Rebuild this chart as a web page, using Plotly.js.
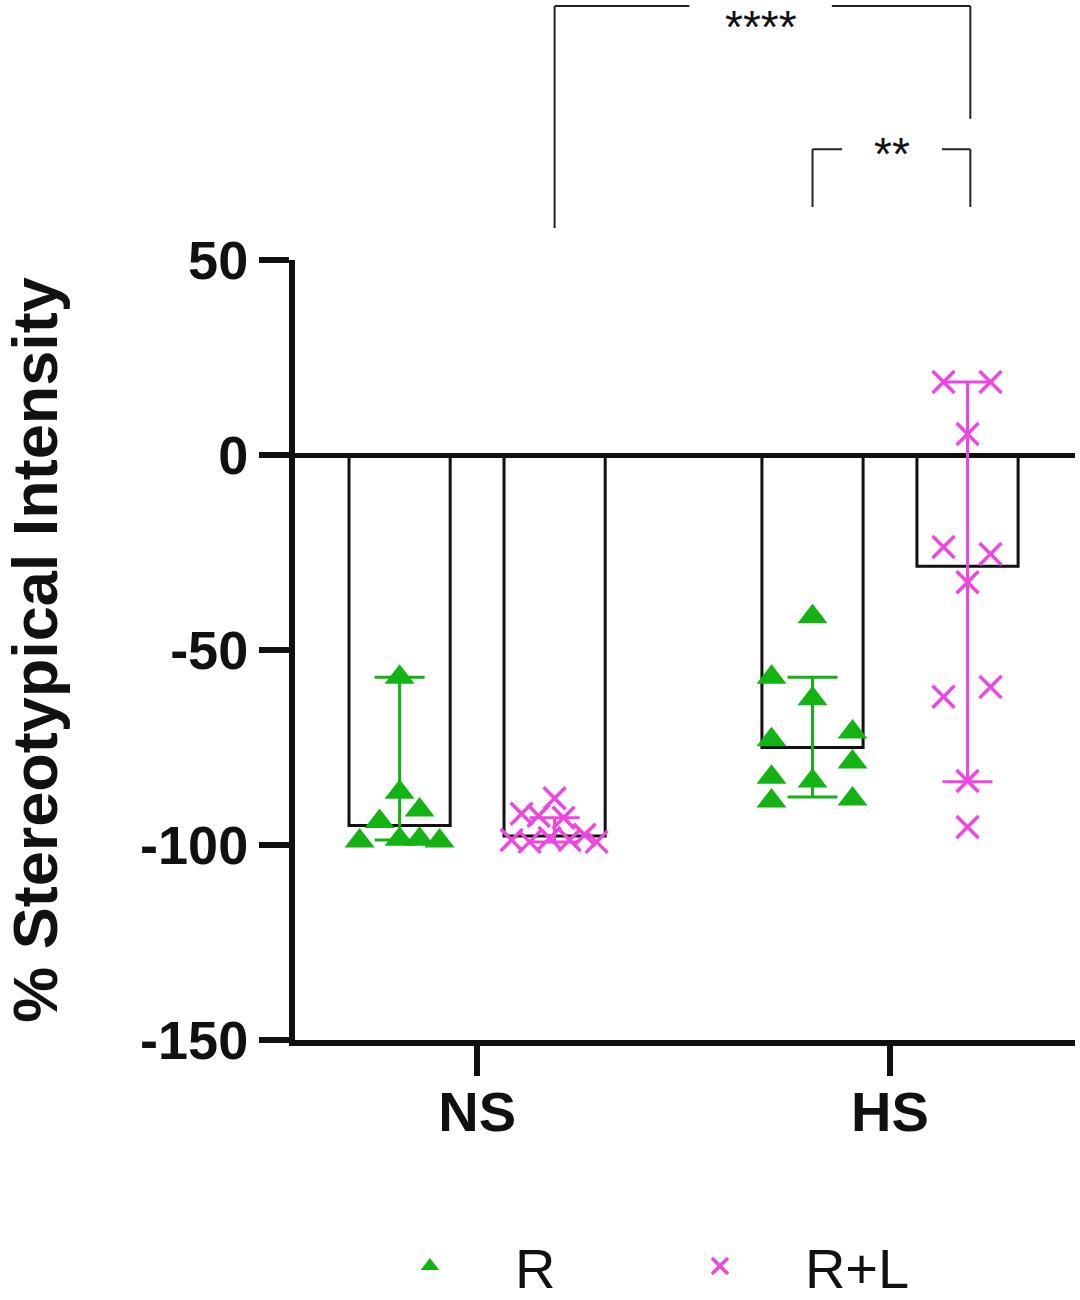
<!DOCTYPE html>
<html>
<head>
<meta charset="utf-8">
<script src="https://cdn.plot.ly/plotly-3.0.1.min.js"></script>
<style>html,body{margin:0;padding:0;background:#fff;}#chart{width:1080px;height:1300px;}</style>
</head>
<body>
<div id="chart"></div>
<script>
// ---- data ----
const groups = ['NS', 'HS'];
const seriesNames = ['R', 'R+L'];
const yTickVals = [-150, -100, -50, 0, 50];
const yTickText = ['-150', '-100', '-50', '0', '50'];

// bar heights (median) and whisker ends
const rBar = [-95, -75];
const rLow = [-98.7, -87.7];
const rHigh = [-57, -57];
const rlBar = [-97.7, -28.5];
const rlLow = [-99.2, -83.8];
const rlHigh = [-93, 18.7];

// individual points
const nsR = [-57, -86.5, -91, -94, -99, -98.5, -98.5, -99];
const nsRJitter = [0, 0, 20, -20, -40, 0, 20, 40];
const hsR = [-41.5, -57, -62.5, -73, -71, -78.7, -82.6, -83.6, -88.7, -88.2];
const hsRJitter = [0, -41, 0, -41, 40, 40, -41, 0, -41, 40];
const nsRL = [-88, -92, -92.5, -93, -98.7, -99.2, -98.2, -98.7, -97.4, -99.2];
const nsRLJitter = [0, -33, -16, 9, -43, -25, -5, 15, 30, 42];
const hsRL = [18.7, 18.7, 5.4, -23.6, -25.4, -32.6, -62, -59.5, -83.6, -95.4];
const hsRLJitter = [-24, 23, 0, -24, 23, 0, -24, 23, 0, 0];

// significance labels
const sigLabels = ['****', '**'];

// ---- layout helpers ----
const green = '#12B312';
const pink = '#EE46DE';
const font = 'Liberation Sans, Arial, sans-serif';
const groupPos = [1, 2];
const off = 0.1877;      // bar offset within group
const barW = 0.245;
const pxUnit = 1 / 413;  // axis units per pixel (for jitter)

const xR = groupPos.map(g => g - off);
const xRL = groupPos.map(g => g + off);

function jit(center, arr) { return arr.map(j => center + j * pxUnit); }

const traces = [
  { type: 'bar', x: xR, y: rBar, width: barW, showlegend: false, hoverinfo: 'skip',
    marker: { color: 'rgba(255,255,255,0)', line: { color: '#111', width: 3 } } },
  { type: 'bar', x: xRL, y: rlBar, width: barW, showlegend: false, hoverinfo: 'skip',
    marker: { color: 'rgba(255,255,255,0)', line: { color: '#111', width: 3 } } },
  { type: 'scatter', mode: 'markers', x: xR, y: rBar, showlegend: false, hoverinfo: 'skip',
    marker: { size: 1, color: 'rgba(0,0,0,0)' },
    error_y: { type: 'data', symmetric: false,
      array: rHigh.map((v, i) => v - rBar[i]), arrayminus: rLow.map((v, i) => rBar[i] - v),
      color: green, thickness: 3, width: 25 } },
  { type: 'scatter', mode: 'markers', x: xRL, y: rlBar, showlegend: false, hoverinfo: 'skip',
    marker: { size: 1, color: 'rgba(0,0,0,0)' },
    error_y: { type: 'data', symmetric: false,
      array: rlHigh.map((v, i) => v - rlBar[i]), arrayminus: rlLow.map((v, i) => rlBar[i] - v),
      color: pink, thickness: 3, width: 25 } },
  { type: 'scatter', mode: 'markers', name: seriesNames[0],
    x: jit(xR[0], nsRJitter).concat(jit(xR[1], hsRJitter)),
    y: nsR.concat(hsR),
    marker: { symbol: 'triangle-up', size: 26, color: green, line: { width: 0 } } },
  { type: 'scatter', mode: 'markers', name: seriesNames[1],
    x: jit(xRL[0], nsRLJitter).concat(jit(xRL[1], hsRLJitter)),
    y: nsRL.concat(hsRL),
    marker: { symbol: 'x-thin', size: 22, color: pink, line: { width: 3.5, color: pink } } }
];

// significance brackets (paper y, data x)
const yTop = 1.3256, yBigLeftEnd = 1.041, yBigRightEnd = 1.181;
const ySmallTop = 1.142, ySmallEnd = 1.068;
const paperTop = 1 + 260 / 780;
const lineStyle = { color: '#222', width: 2 };
const shapes = [
  { type: 'line', xref: 'x', yref: 'paper', x0: xRL[0], x1: xRL[0], y0: yBigLeftEnd, y1: yTop, line: lineStyle },
  { type: 'line', xref: 'x', yref: 'paper', x0: xRL[0], x1: 1.514, y0: yTop, y1: yTop, line: lineStyle },
  { type: 'line', xref: 'x', yref: 'paper', x0: 1.859, x1: 2.1945, y0: yTop, y1: yTop, line: lineStyle },
  { type: 'line', xref: 'x', yref: 'paper', x0: 2.1945, x1: 2.1945, y0: yTop, y1: yBigRightEnd, line: lineStyle },
  { type: 'line', xref: 'x', yref: 'paper', x0: xR[1], x1: xR[1], y0: ySmallEnd, y1: ySmallTop, line: lineStyle },
  { type: 'line', xref: 'x', yref: 'paper', x0: xR[1], x1: 1.884, y0: ySmallTop, y1: ySmallTop, line: lineStyle },
  { type: 'line', xref: 'x', yref: 'paper', x0: 2.126, x1: 2.1945, y0: ySmallTop, y1: ySmallTop, line: lineStyle },
  { type: 'line', xref: 'x', yref: 'paper', x0: 2.1945, x1: 2.1945, y0: ySmallTop, y1: ySmallEnd, line: lineStyle }
];

const annotations = [
  { xref: 'x', yref: 'paper', x: 1.688, y: paperTop, text: sigLabels[0], showarrow: false,
    yanchor: 'top', yshift: 0, borderpad: 0, font: { family: font, size: 46, color: '#111' } },
  { xref: 'x', yref: 'paper', x: 2.0036, y: ySmallTop, text: sigLabels[1], showarrow: false,
    yanchor: 'middle', yshift: -5, font: { family: font, size: 46, color: '#111' } }
];

const layout = {
  width: 1080, height: 1300,
  margin: { l: 295, r: 5, t: 260, b: 260, autoexpand: false },
  paper_bgcolor: '#fff', plot_bgcolor: '#fff',
  barmode: 'overlay',
  showlegend: true,
  legend: { orientation: 'h', x: 0.064, y: -0.29, xanchor: 'left', yanchor: 'middle',
    font: { family: font, size: 56, color: '#111' },
    entrywidth: 115, entrywidthmode: 'pixels', itemwidth: 160 },
  xaxis: {
    range: [0.559, 2.448], tickvals: groupPos, ticktext: groups,
    showline: true, linewidth: 6, linecolor: '#111', showgrid: false, zeroline: false,
    ticks: 'outside', ticklen: 30, tickwidth: 6, tickcolor: '#111', ticklabelstandoff: -12,
    tickfont: { family: font, size: 56, color: '#111', weight: 'bold' }
  },
  yaxis: {
    range: [-150, 50], tickvals: yTickVals, ticktext: yTickText,
    showline: true, linewidth: 6, linecolor: '#111', showgrid: false,
    zeroline: true, zerolinewidth: 5, zerolinecolor: '#111',
    ticks: 'outside', ticklen: 30, tickwidth: 6, tickcolor: '#111',
    tickfont: { family: font, size: 54, color: '#111', weight: 'bold' },
    title: { text: '% Stereotypical Intensity', standoff: 78,
      font: { family: font, size: 63, color: '#111', weight: 'bold' } }
  },
  shapes: shapes,
  annotations: annotations
};

Plotly.newPlot('chart', traces, layout, { staticPlot: true, displayModeBar: false });
</script>
</body>
</html>
